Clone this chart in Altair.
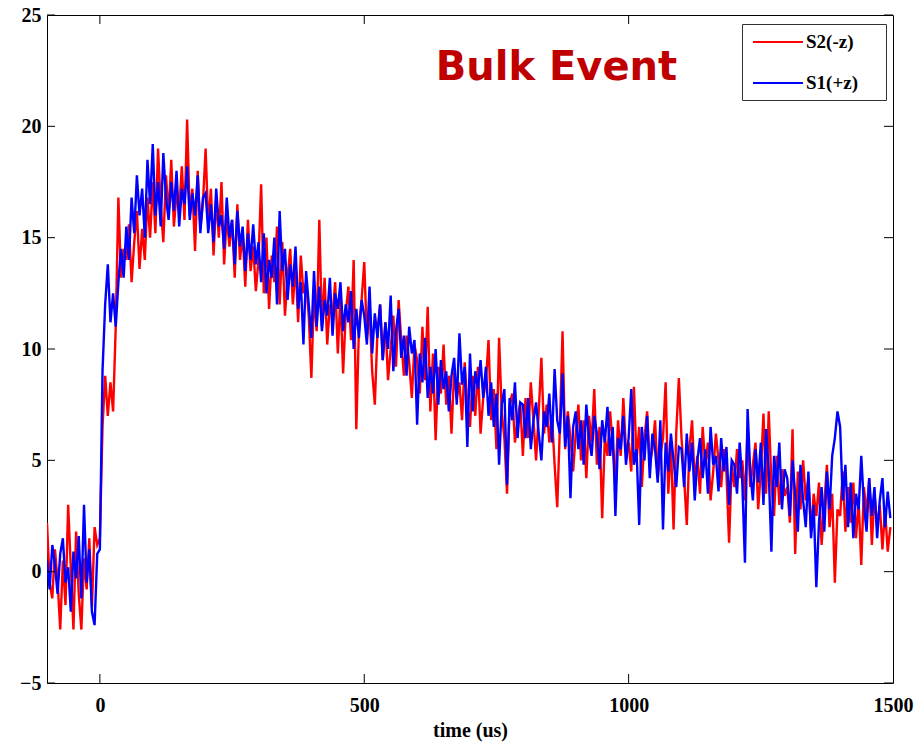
import altair as alt
import pandas as pd

# Sampling grid of the two traces (microseconds)
T_START = -100
T_STEP = 5

# S2(-z) channel, one value per 5 us starting at -100 us
S2 = [
    2.2, -0.5, -1.2, 1.0, -0.4, -2.6, 0.5, -1.5, 3.0, 0.2, -2.6, 1.8, -1.0, -2.6, 0.6, -0.8, 1.5, -1.6, 2.0, 1.2,
    1.5, 6.5, 8.8, 7.0, 8.5, 7.2, 11.0, 16.8, 13.2, 14.5, 14.0, 15.6, 13.0, 14.8, 16.2, 13.6, 15.4, 14.0, 16.8, 15.0,
    17.5, 15.2, 19.0, 16.5, 14.8, 17.8, 16.0, 18.5, 15.5, 17.0, 16.2, 18.2, 15.8, 20.3, 16.0, 17.2, 14.4, 18.0, 15.4, 16.6,
    19.0, 15.5, 17.2, 14.2, 16.8, 15.0, 17.5, 13.8, 16.0, 14.6, 15.8, 13.2, 16.5, 14.0, 15.2, 12.8, 15.8, 13.5, 14.6, 12.6,
    14.0, 17.4, 12.5, 15.0, 11.8, 14.2, 13.0, 15.5, 12.0, 14.8, 11.5, 13.2, 14.5, 12.0, 13.8, 11.2, 14.2, 12.5, 13.0, 11.5,
    8.7, 12.5, 10.8, 15.8, 11.0, 13.2, 10.2, 12.0, 11.5, 13.0, 9.8, 12.4, 8.9, 11.6, 12.8, 10.4, 14.0, 6.4, 11.0, 12.2,
    13.9, 10.5, 11.8, 9.0, 7.5, 10.8, 12.0, 9.5, 11.2, 8.6, 10.0, 11.5, 9.2, 12.2, 10.4, 8.8, 10.6, 9.4, 7.8, 10.2,
    9.5, 8.0, 11.0, 8.6, 11.9, 7.2, 9.8, 5.9, 9.2, 8.0, 10.2, 7.5, 8.8, 6.2, 9.0, 7.8, 8.5, 6.8, 9.4, 7.4,
    6.5, 8.8, 7.0, 9.2, 6.2, 7.8, 8.5, 10.4, 6.8, 8.2, 5.5, 10.5, 7.2, 6.0, 3.5, 7.5, 8.0, 5.8, 6.8, 7.6,
    5.2, 7.8, 6.0, 8.5, 6.8, 5.0, 7.2, 9.6, 6.2, 7.5, 5.8, 7.0, 4.8, 2.9, 6.5, 10.8, 5.5, 7.2, 6.0, 4.5,
    6.2, 7.5, 5.0, 6.8, 4.2, 7.0, 5.8, 8.2, 4.8, 6.5, 2.4, 6.0, 5.2, 7.2, 5.6, 4.0, 6.8, 5.2, 7.8, 5.4,
    5.8, 4.5, 8.3, 5.0, 6.5, 3.8, 6.0, 7.2, 4.8, 5.5, 6.8, 4.2, 5.2, 6.0, 8.5, 3.5, 5.8, 1.9, 6.2, 8.7,
    6.0, 4.2, 2.1, 5.5, 6.8, 4.0, 5.2, 3.5, 6.5, 4.8, 5.8, 3.2, 4.5, 6.2, 5.0, 3.8, 5.5, 4.4, 1.3, 4.8,
    3.8, 5.5, 4.2, 5.0, 3.2, 6.5, 3.8, 4.8, 5.8, 2.8, 4.5, 7.1, 3.5, 7.2, 4.0, 2.5, 5.2, 3.0, 4.6, 3.4,
    3.8, 2.2, 6.4, 0.8, 4.5, 2.8, 5.0, 3.2, 4.2, 1.8, 3.5, 2.5, 4.0, 1.2, 3.0, 4.8, 2.0, 3.5, -0.5, 2.8,
    2.5, 4.5, 1.8, 3.8, 2.2, 4.0, 1.5, 3.2, 0.3, 3.8, 2.6, 4.2, 1.2, 3.5, 2.0, 3.0, 1.0, 2.8, 0.9, 2.0,
]

# S1(+z) channel, same grid
S1 = [
    0.5, -0.8, 1.2, 0.3, -1.0, 0.8, 1.5, -0.5, 0.2, -1.8, 0.9, -0.3, 1.6, -1.2, 3.0, -0.5, 1.0, -1.8, -2.4, 0.8,
    1.0, 9.0, 12.0, 13.8, 11.2, 12.5, 11.0, 13.0, 14.5, 13.2, 15.5, 14.0, 16.8, 15.2, 17.8, 16.0, 17.2, 15.0, 18.5, 16.5,
    19.2, 16.0, 17.5, 15.5, 18.8, 16.8, 15.8, 17.5, 16.2, 18.0, 15.5, 17.2, 16.5, 18.2, 15.8, 17.0, 16.0, 17.8, 15.2, 16.8,
    17.0, 15.2, 16.5, 14.8, 17.2, 15.5, 16.0, 14.5, 16.8, 15.0, 15.8, 13.8, 16.2, 14.6, 15.5, 13.5, 15.2, 14.0, 15.6, 13.8,
    14.8, 13.0, 15.2, 12.5, 14.0, 13.2, 15.0, 12.0, 16.2, 13.5, 14.5, 12.2, 13.8, 12.8, 14.6, 11.8, 13.0, 10.2, 13.5, 12.0,
    10.5, 13.5, 11.0, 12.8, 10.8, 12.2, 11.5, 13.2, 10.6, 12.5, 11.8, 13.0, 10.8, 12.0, 11.2, 12.6, 10.0, 11.8, 10.5, 12.2,
    11.5, 10.2, 12.8, 9.8, 11.6, 10.5, 12.0, 9.5, 11.2, 10.0, 12.4, 9.0, 10.8, 11.8, 9.6, 10.6, 8.8, 11.0, 9.8, 10.4,
    6.6, 9.8, 8.5, 10.5, 7.8, 9.2, 8.0, 10.0, 7.5, 9.5, 8.2, 9.0, 7.2, 8.8, 9.6, 7.5, 10.7, 8.4, 9.2, 5.6,
    9.8, 7.2, 9.0, 8.2, 9.5, 7.8, 9.2, 7.0, 8.5, 6.5, 8.0, 4.8, 7.5, 8.2, 3.9, 7.8, 6.8, 8.5, 6.0, 7.6,
    7.5, 6.0, 7.8, 5.5, 6.8, 7.6, 6.2, 5.0, 7.2, 6.5, 8.0, 5.8, 9.1, 6.8, 6.2, 8.9, 5.6, 7.0, 3.3, 6.5,
    7.2, 5.5, 6.8, 4.8, 7.5, 6.0, 5.2, 7.0, 6.2, 4.6, 6.8, 5.8, 7.4, 5.2, 6.5, 2.5, 6.0, 5.5, 7.0, 4.8,
    6.0, 8.2, 4.8, 5.5, 2.1, 6.5, 5.0, 7.0, 4.2, 6.2, 5.5, 4.0, 6.8, 1.9, 5.8, 4.5, 6.2, 5.0, 3.8, 5.6,
    5.5, 3.8, 6.2, 4.5, 5.8, 3.2, 5.0, 6.0, 4.2, 5.5, 3.5, 6.5, 4.8, 5.2, 3.6, 6.0, 4.5, 5.6, 3.0, 5.0,
    4.8, 3.5, 5.8, 4.0, 0.4, 7.3, 4.5, 3.2, 5.5, 4.0, 5.8, 3.0, 6.4, 4.5, 0.9, 5.2, 3.8, 5.8, 2.8, 4.6,
    4.2, 2.5, 5.0, 3.5, 1.8, 4.8, 3.2, 2.0, 4.5, 1.5, 3.0, -0.7, 2.2, 3.8, 1.8, 4.5, 2.8, 5.2, 6.0, 7.2,
    6.5, 3.2, 4.8, 2.0, 4.0, 1.5, 3.5, 2.8, 5.2, 3.0, 1.8, 4.2, 2.5, 3.8, 1.5, 3.2, 4.2, 2.0, 3.6, 2.4,
]

SERIES_NAMES = ["S2(-z)", "S1(+z)"]
SERIES_COLORS = ["#FF0000", "#0000FF"]
X_TICKS = [0, 500, 1000, 1500]
Y_TICKS = [-5, 0, 5, 10, 15, 20, 25]
HEADLINE = ["Bulk Event"]

W, H = 846, 668
SERIF = "Liberation Serif"


def frame(values, name):
    times = [T_START + T_STEP * i for i in range(len(values))]
    return pd.DataFrame({"t": times, "v": values, "series": name})


x_scale = alt.Scale(domain=[-100, 1500], nice=False, zero=False)
y_scale = alt.Scale(domain=[-5, 25], nice=False, zero=False)

color = alt.Color(
    "series:N",
    scale=alt.Scale(domain=SERIES_NAMES, range=SERIES_COLORS),
    legend=alt.Legend(
        title=None,
        orient="none",
        legendX=695,
        legendY=9,
        # long horizontal stroke right of the symbol centre; the trailing
        # move-to widens the entry so the box leaves room after the label
        symbolType="M-0.7,0H4.3M11.5,0",
        symbolSize=400,
        symbolStrokeWidth=2,
        labelFont=SERIF,
        labelFontWeight="bold",
        labelFontSize=19,
        labelColor="black",
        labelOffset=35,
        strokeColor="#333333",
        fillColor="white",
        padding=7,
        rowPadding=20,
    ),
)

axis_common = dict(
    format="d",
    domain=False,
    ticks=False,
    tickSize=0,
    grid=False,
    labelFont=SERIF,
    labelFontWeight="bold",
    labelFontSize=20,
    labelColor="black",
    labelFlush=False,
)

x_axis = alt.Axis(
    values=X_TICKS,
    title="time (us)",
    labelPadding=12,
    titleFont=SERIF,
    titleFontWeight="bold",
    titleFontSize=20,
    titleColor="black",
    titleY=53,
    titleBaseline="alphabetic",
    **axis_common,
)

y_axis = alt.Axis(values=Y_TICKS, title=None, labelPadding=6, **axis_common)

X = alt.X("t:Q", scale=x_scale, axis=x_axis)
Y = alt.Y("v:Q", scale=y_scale, axis=y_axis)

red = alt.Chart(frame(S2, SERIES_NAMES[0])).mark_line(strokeWidth=2.4, clip=True).encode(
    x=X, y=Y, color=color
)
blue = alt.Chart(frame(S1, SERIES_NAMES[1])).mark_line(strokeWidth=2.4, clip=True).encode(
    x=X, y=Y, color=color
)

# Inward-pointing tick marks on all four sides of the box
y_tick_df = pd.DataFrame({"v": Y_TICKS})
x_tick_df = pd.DataFrame({"t": X_TICKS[:-1]})
tick_style = dict(color="black", strokeWidth=1)

left_ticks = alt.Chart(y_tick_df).mark_rule(**tick_style).encode(
    y=Y, x=alt.value(0), x2=alt.value(8)
)
right_ticks = alt.Chart(y_tick_df).mark_rule(**tick_style).encode(
    y=Y, x=alt.value(W - 9), x2=alt.value(W)
)
bottom_ticks = alt.Chart(x_tick_df).mark_rule(**tick_style).encode(
    x=X, y=alt.value(H - 9), y2=alt.value(H)
)
top_ticks = alt.Chart(x_tick_df).mark_rule(**tick_style).encode(
    x=X, y=alt.value(0), y2=alt.value(9)
)

headline = alt.Chart(pd.DataFrame({"label": HEADLINE})).mark_text(
    font="DejaVu Sans",
    fontWeight="bold",
    fontSize=40,
    color="#C00000",
    align="center",
    baseline="alphabetic",
).encode(x=alt.value(509.5), y=alt.value(65), text="label:N")

chart = (
    alt.layer(red, blue, left_ticks, right_ticks, bottom_ticks, top_ticks, headline)
    .properties(
        width=W,
        height=H,
        autosize=alt.AutoSizeParams(type="none"),
        padding={"left": 47, "top": 15, "right": 24, "bottom": 59},
        background="white",
    )
    .configure_view(stroke="black", strokeWidth=1)
)

chart.save("out.html", embed_options={"renderer": "svg", "actions": False})
